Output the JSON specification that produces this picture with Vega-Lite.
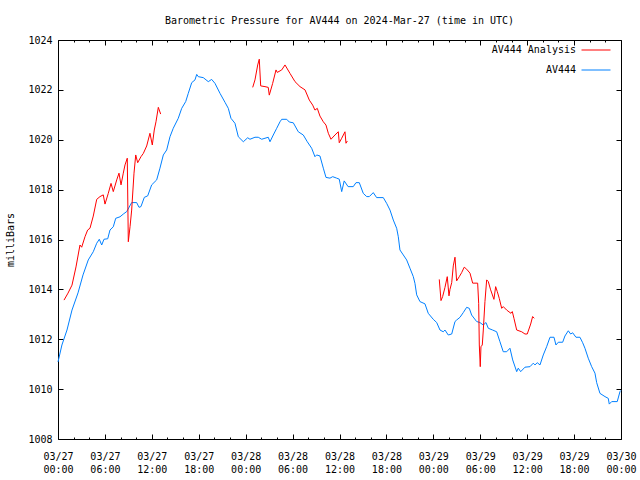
{
  "$schema": "https://vega.github.io/schema/vega-lite/v6.json",
  "width": 563,
  "height": 399,
  "autosize": "none",
  "padding": {"left": 58, "top": 40, "right": 19, "bottom": 41},
  "background": "white",
  "config": {
    "font": "DejaVu Sans Mono",
    "view": {"stroke": null},
    "axis": {
      "domainColor": "black",
      "domainWidth": 1,
      "tickColor": "black",
      "tickWidth": 1,
      "labelColor": "black",
      "labelFont": "DejaVu Sans Mono",
      "labelFontSize": 10,
      "titleFont": "DejaVu Sans Mono",
      "titleFontSize": 10,
      "titleFontWeight": "normal",
      "titleColor": "black",
      "grid": false
    }
  },
  "title": {
    "text": "Barometric Pressure for AV444 on 2024-Mar-27 (time in UTC)",
    "font": "DejaVu Sans Mono",
    "fontSize": 10,
    "fontWeight": "normal",
    "color": "black",
    "anchor": "middle",
    "offset": 9
  },
  "datasets": {
    "blue": [
      {"h": 0, "p": 1011.09}, {"h": 0.5, "p": 1011.77}, {"h": 1.15, "p": 1012.37}, {"h": 1.79, "p": 1013.17},
      {"h": 2.56, "p": 1013.86}, {"h": 3.2, "p": 1014.58}, {"h": 3.87, "p": 1015.18}, {"h": 4.51, "p": 1015.51},
      {"h": 4.95, "p": 1015.85}, {"h": 5.28, "p": 1016.01}, {"h": 5.59, "p": 1015.78}, {"h": 5.88, "p": 1016.01},
      {"h": 6.36, "p": 1016.03}, {"h": 6.65, "p": 1016.38}, {"h": 7.07, "p": 1016.51}, {"h": 7.38, "p": 1016.85},
      {"h": 7.93, "p": 1016.91}, {"h": 8.35, "p": 1017.02}, {"h": 8.79, "p": 1017.12}, {"h": 9.42, "p": 1017.48},
      {"h": 10.06, "p": 1017.48}, {"h": 10.36, "p": 1017.29}, {"h": 10.61, "p": 1017.32}, {"h": 11.04, "p": 1017.69},
      {"h": 11.47, "p": 1017.75}, {"h": 11.98, "p": 1018.19}, {"h": 12.62, "p": 1018.39}, {"h": 13.04, "p": 1018.86},
      {"h": 13.47, "p": 1019.39}, {"h": 13.9, "p": 1019.59}, {"h": 14.32, "p": 1020.12}, {"h": 14.74, "p": 1020.46},
      {"h": 15.38, "p": 1020.86}, {"h": 15.82, "p": 1021.26}, {"h": 16.33, "p": 1021.53}, {"h": 16.66, "p": 1021.86},
      {"h": 17.1, "p": 1022.29}, {"h": 17.52, "p": 1022.4}, {"h": 17.74, "p": 1022.62}, {"h": 17.94, "p": 1022.53},
      {"h": 18.58, "p": 1022.49}, {"h": 19.22, "p": 1022.33}, {"h": 19.65, "p": 1022.42}, {"h": 20.08, "p": 1022.26},
      {"h": 20.72, "p": 1021.86}, {"h": 21.36, "p": 1021.5}, {"h": 21.78, "p": 1021.26}, {"h": 22.12, "p": 1020.86},
      {"h": 22.63, "p": 1020.66}, {"h": 23.06, "p": 1020.12}, {"h": 23.7, "p": 1019.92}, {"h": 24.26, "p": 1020.08},
      {"h": 24.55, "p": 1020.02}, {"h": 25.19, "p": 1020.1}, {"h": 25.61, "p": 1020.1}, {"h": 26.05, "p": 1020.02},
      {"h": 26.89, "p": 1020.1}, {"h": 27.11, "p": 1019.92}, {"h": 27.53, "p": 1020.19}, {"h": 27.97, "p": 1020.46},
      {"h": 28.39, "p": 1020.72}, {"h": 28.61, "p": 1020.82}, {"h": 29.25, "p": 1020.82}, {"h": 29.58, "p": 1020.71},
      {"h": 30.09, "p": 1020.68}, {"h": 30.73, "p": 1020.32}, {"h": 31.37, "p": 1020.19}, {"h": 31.88, "p": 1019.92},
      {"h": 32.44, "p": 1019.66}, {"h": 32.86, "p": 1019.32}, {"h": 33.08, "p": 1019.39}, {"h": 33.5, "p": 1019.35},
      {"h": 33.93, "p": 1018.86}, {"h": 34.27, "p": 1018.49}, {"h": 34.78, "p": 1018.46}, {"h": 35.13, "p": 1018.52},
      {"h": 35.64, "p": 1018.46}, {"h": 35.97, "p": 1018.42}, {"h": 36.28, "p": 1017.92}, {"h": 36.6, "p": 1018.35},
      {"h": 37.1, "p": 1018.12}, {"h": 37.76, "p": 1018.12}, {"h": 38.11, "p": 1018.28}, {"h": 38.53, "p": 1018.28},
      {"h": 39.04, "p": 1017.85}, {"h": 39.48, "p": 1017.72}, {"h": 39.81, "p": 1017.72}, {"h": 40.32, "p": 1017.88},
      {"h": 40.75, "p": 1017.68}, {"h": 41.6, "p": 1017.68}, {"h": 42.03, "p": 1017.45}, {"h": 42.46, "p": 1017.18},
      {"h": 42.88, "p": 1016.78}, {"h": 43.31, "p": 1016.45}, {"h": 43.52, "p": 1016.11}, {"h": 43.73, "p": 1015.58},
      {"h": 44.16, "p": 1015.38}, {"h": 44.59, "p": 1015.18}, {"h": 45.01, "p": 1014.85}, {"h": 45.44, "p": 1014.51},
      {"h": 45.65, "p": 1014.24}, {"h": 45.87, "p": 1013.78}, {"h": 46.29, "p": 1013.51}, {"h": 46.93, "p": 1013.42},
      {"h": 47.35, "p": 1013.04}, {"h": 47.99, "p": 1012.8}, {"h": 48.43, "p": 1012.67}, {"h": 48.85, "p": 1012.37},
      {"h": 49.27, "p": 1012.3}, {"h": 49.49, "p": 1012.37}, {"h": 49.91, "p": 1012.17}, {"h": 50.35, "p": 1012.21},
      {"h": 50.77, "p": 1012.71}, {"h": 50.98, "p": 1012.77}, {"h": 51.41, "p": 1012.88}, {"h": 51.83, "p": 1013.07},
      {"h": 52.26, "p": 1013.28}, {"h": 52.6, "p": 1013.24}, {"h": 52.9, "p": 1012.97}, {"h": 53.54, "p": 1012.71},
      {"h": 53.96, "p": 1012.67}, {"h": 54.39, "p": 1012.57}, {"h": 54.73, "p": 1012.67}, {"h": 55.03, "p": 1012.44},
      {"h": 55.58, "p": 1012.37}, {"h": 56.1, "p": 1012.3}, {"h": 56.52, "p": 1011.9}, {"h": 56.94, "p": 1011.5},
      {"h": 57.38, "p": 1011.5}, {"h": 57.8, "p": 1011.64}, {"h": 58.15, "p": 1011.17}, {"h": 58.66, "p": 1010.7},
      {"h": 58.86, "p": 1010.84}, {"h": 59.17, "p": 1010.7}, {"h": 59.72, "p": 1010.88}, {"h": 60.36, "p": 1010.9},
      {"h": 60.78, "p": 1011.04}, {"h": 61.0, "p": 1010.97}, {"h": 61.29, "p": 1011.06}, {"h": 61.64, "p": 1010.97},
      {"h": 62.06, "p": 1011.37}, {"h": 62.49, "p": 1011.7}, {"h": 62.92, "p": 1012.08}, {"h": 63.43, "p": 1012.08},
      {"h": 63.68, "p": 1011.77}, {"h": 63.98, "p": 1011.88}, {"h": 64.54, "p": 1011.88}, {"h": 64.83, "p": 1012.13},
      {"h": 65.26, "p": 1012.34}, {"h": 65.56, "p": 1012.21}, {"h": 65.82, "p": 1012.26}, {"h": 66.24, "p": 1012.08},
      {"h": 66.75, "p": 1012.08}, {"h": 67.1, "p": 1011.86}, {"h": 67.39, "p": 1011.64}, {"h": 67.81, "p": 1011.24},
      {"h": 68.25, "p": 1010.9}, {"h": 68.67, "p": 1010.64}, {"h": 68.89, "p": 1010.26}, {"h": 69.31, "p": 1009.83},
      {"h": 69.95, "p": 1009.7}, {"h": 70.37, "p": 1009.63}, {"h": 70.5, "p": 1009.4}, {"h": 70.81, "p": 1009.5},
      {"h": 71.52, "p": 1009.5}, {"h": 71.87, "p": 1009.9}, {"h": 72, "p": 1009.95}
    ],
    "red": [
      {"seg": 1, "h": 0.77, "p": 1013.57}, {"seg": 1, "h": 1.28, "p": 1013.85}, {"seg": 1, "h": 1.79, "p": 1014.17},
      {"seg": 1, "h": 2.3, "p": 1014.9}, {"seg": 1, "h": 2.81, "p": 1015.78}, {"seg": 1, "h": 3.03, "p": 1015.69},
      {"seg": 1, "h": 3.45, "p": 1016.11}, {"seg": 1, "h": 3.79, "p": 1016.38}, {"seg": 1, "h": 4.09, "p": 1016.45},
      {"seg": 1, "h": 4.51, "p": 1016.94}, {"seg": 1, "h": 4.95, "p": 1017.61}, {"seg": 1, "h": 5.37, "p": 1017.72},
      {"seg": 1, "h": 5.79, "p": 1017.79}, {"seg": 1, "h": 6.01, "p": 1017.42}, {"seg": 1, "h": 6.43, "p": 1017.85},
      {"seg": 1, "h": 6.78, "p": 1018.25}, {"seg": 1, "h": 7.07, "p": 1017.92}, {"seg": 1, "h": 7.51, "p": 1018.39},
      {"seg": 1, "h": 7.8, "p": 1018.66}, {"seg": 1, "h": 8.06, "p": 1018.19}, {"seg": 1, "h": 8.35, "p": 1018.66},
      {"seg": 1, "h": 8.57, "p": 1018.99}, {"seg": 1, "h": 8.86, "p": 1019.26}, {"seg": 1, "h": 8.99, "p": 1015.91},
      {"seg": 1, "h": 9.21, "p": 1016.51}, {"seg": 1, "h": 9.42, "p": 1017.18}, {"seg": 1, "h": 9.72, "p": 1018.66},
      {"seg": 1, "h": 9.94, "p": 1019.39}, {"seg": 1, "h": 10.19, "p": 1019.08}, {"seg": 1, "h": 10.61, "p": 1019.32},
      {"seg": 1, "h": 10.91, "p": 1019.45}, {"seg": 1, "h": 11.34, "p": 1019.75}, {"seg": 1, "h": 11.76, "p": 1020.26},
      {"seg": 1, "h": 12.06, "p": 1019.79}, {"seg": 1, "h": 12.31, "p": 1020.39}, {"seg": 1, "h": 12.53, "p": 1020.72},
      {"seg": 1, "h": 12.83, "p": 1021.3}, {"seg": 1, "h": 13.13, "p": 1021.03},
      {"seg": 2, "h": 24.9, "p": 1022.1}, {"seg": 2, "h": 25.19, "p": 1022.4}, {"seg": 2, "h": 25.54, "p": 1023.0},
      {"seg": 2, "h": 25.74, "p": 1023.23}, {"seg": 2, "h": 25.92, "p": 1022.16}, {"seg": 2, "h": 26.47, "p": 1022.13},
      {"seg": 2, "h": 26.89, "p": 1022.1}, {"seg": 2, "h": 27.02, "p": 1021.79}, {"seg": 2, "h": 27.45, "p": 1022.26},
      {"seg": 2, "h": 27.88, "p": 1022.8}, {"seg": 2, "h": 28.04, "p": 1022.7}, {"seg": 2, "h": 28.61, "p": 1022.8},
      {"seg": 2, "h": 29.03, "p": 1023.0}, {"seg": 2, "h": 29.67, "p": 1022.66}, {"seg": 2, "h": 30.31, "p": 1022.33},
      {"seg": 2, "h": 30.95, "p": 1022.13}, {"seg": 2, "h": 31.59, "p": 1022.0}, {"seg": 2, "h": 32.14, "p": 1021.59},
      {"seg": 2, "h": 32.57, "p": 1021.39}, {"seg": 2, "h": 32.86, "p": 1021.19}, {"seg": 2, "h": 33.16, "p": 1021.26},
      {"seg": 2, "h": 33.5, "p": 1020.95}, {"seg": 2, "h": 33.93, "p": 1020.72}, {"seg": 2, "h": 34.27, "p": 1020.59},
      {"seg": 2, "h": 34.57, "p": 1020.26}, {"seg": 2, "h": 34.91, "p": 1020.02}, {"seg": 2, "h": 35.42, "p": 1020.19},
      {"seg": 2, "h": 35.85, "p": 1020.32}, {"seg": 2, "h": 35.97, "p": 1019.88}, {"seg": 2, "h": 36.28, "p": 1020.06},
      {"seg": 2, "h": 36.7, "p": 1020.32}, {"seg": 2, "h": 36.83, "p": 1019.86}, {"seg": 2, "h": 37.0, "p": 1019.95},
      {"seg": 3, "h": 48.76, "p": 1014.4}, {"seg": 3, "h": 48.98, "p": 1013.55}, {"seg": 3, "h": 49.19, "p": 1013.71},
      {"seg": 3, "h": 49.49, "p": 1014.08}, {"seg": 3, "h": 49.78, "p": 1014.51}, {"seg": 3, "h": 50.0, "p": 1013.74},
      {"seg": 3, "h": 50.13, "p": 1014.0}, {"seg": 3, "h": 50.35, "p": 1014.27}, {"seg": 3, "h": 50.55, "p": 1014.94},
      {"seg": 3, "h": 50.77, "p": 1015.29}, {"seg": 3, "h": 50.98, "p": 1014.34}, {"seg": 3, "h": 51.32, "p": 1014.51},
      {"seg": 3, "h": 51.62, "p": 1014.67}, {"seg": 3, "h": 51.95, "p": 1014.89}, {"seg": 3, "h": 52.26, "p": 1014.81},
      {"seg": 3, "h": 52.69, "p": 1014.65}, {"seg": 3, "h": 53.03, "p": 1014.25}, {"seg": 3, "h": 53.67, "p": 1014.25},
      {"seg": 3, "h": 53.8, "p": 1013.44}, {"seg": 3, "h": 53.88, "p": 1011.77}, {"seg": 3, "h": 54.0, "p": 1010.9},
      {"seg": 3, "h": 54.09, "p": 1011.7}, {"seg": 3, "h": 54.26, "p": 1011.77}, {"seg": 3, "h": 54.39, "p": 1012.37},
      {"seg": 3, "h": 54.6, "p": 1013.51}, {"seg": 3, "h": 54.82, "p": 1014.38}, {"seg": 3, "h": 55.03, "p": 1014.31},
      {"seg": 3, "h": 55.33, "p": 1013.98}, {"seg": 3, "h": 55.75, "p": 1013.6}, {"seg": 3, "h": 55.97, "p": 1014.11},
      {"seg": 3, "h": 56.18, "p": 1013.91}, {"seg": 3, "h": 56.43, "p": 1013.64}, {"seg": 3, "h": 56.74, "p": 1013.24},
      {"seg": 3, "h": 56.94, "p": 1013.31}, {"seg": 3, "h": 57.38, "p": 1013.17}, {"seg": 3, "h": 57.93, "p": 1013.04},
      {"seg": 3, "h": 58.1, "p": 1013.11}, {"seg": 3, "h": 58.31, "p": 1012.84}, {"seg": 3, "h": 58.66, "p": 1012.37},
      {"seg": 3, "h": 59.3, "p": 1012.3}, {"seg": 3, "h": 59.72, "p": 1012.21}, {"seg": 3, "h": 60.01, "p": 1012.21},
      {"seg": 3, "h": 60.45, "p": 1012.61}, {"seg": 3, "h": 60.7, "p": 1012.91}, {"seg": 3, "h": 60.91, "p": 1012.84}
    ]
  },
  "layer": [
    {
      "data": {"name": "blue"},
      "mark": {"type": "line", "strokeWidth": 1},
      "encoding": {
        "x": {
          "field": "h", "type": "quantitative",
          "scale": {"domain": [0, 72], "nice": false, "zero": false},
          "axis": {
            "orient": "bottom",
            "title": null,
            "values": [0,2,4,6,8,10,12,14,16,18,20,22,24,26,28,30,32,34,36,38,40,42,44,46,48,50,52,54,56,58,60,62,64,66,68,70,72],
            "tickSize": {"condition": {"test": "datum.value % 6 === 0", "value": -5}, "value": -2},
            "labelPadding": 17,
            "labelBaseline": "top",
            "labelLineHeight": 13,
            "labelOverlap": false,
            "labelFlush": false,
            "labelExpr": "datum.value % 6 === 0 ? ['03/' + (27 + floor(datum.value / 24)), ((datum.value % 24) < 10 ? '0' : '') + (datum.value % 24) + ':00'] : ''"
          }
        },
        "y": {
          "field": "p", "type": "quantitative",
          "scale": {"domain": [1008, 1024], "nice": false, "zero": false},
          "axis": {
            "orient": "left",
            "title": "milliBars",
            "format": "d",
            "values": [1008, 1010, 1012, 1014, 1016, 1018, 1020, 1022, 1024],
            "tickSize": -5,
            "labelPadding": 11,
            "labelFlush": false,
            "titlePadding": 12
          }
        },
        "color": {
          "datum": "AV444",
          "type": "nominal",
          "scale": {"domain": ["AV444 Analysis", "AV444"], "range": ["#ff0000", "#0080ff"]},
          "legend": {
            "title": null,
            "orient": "none",
            "legendX": 523,
            "legendY": -5,
            "symbolType": "stroke",
            "symbolSize": 841,
            "symbolStrokeWidth": 1,
            "labelAlign": "right",
            "labelOffset": -35,
            "labelFont": "DejaVu Sans Mono",
            "labelFontSize": 10,
            "labelColor": "black",
            "labelLimit": 300,
            "rowPadding": -7.5
          }
        }
      }
    },
    {
      "data": {"name": "red"},
      "mark": {"type": "line", "strokeWidth": 1},
      "encoding": {
        "x": {
          "field": "h", "type": "quantitative",
          "axis": {
            "orient": "top",
            "title": null,
            "labels": false,
            "values": [0,2,4,6,8,10,12,14,16,18,20,22,24,26,28,30,32,34,36,38,40,42,44,46,48,50,52,54,56,58,60,62,64,66,68,70,72],
            "tickSize": {"condition": {"test": "datum.value % 6 === 0", "value": -5}, "value": -2}
          }
        },
        "y": {
          "field": "p", "type": "quantitative",
          "axis": {
            "orient": "right",
            "title": null,
            "labels": false,
            "values": [1008, 1010, 1012, 1014, 1016, 1018, 1020, 1022, 1024],
            "tickSize": -5
          }
        },
        "detail": {"field": "seg", "type": "nominal"},
        "color": {"datum": "AV444 Analysis", "type": "nominal"}
      }
    }
  ],
  "resolve": {"axis": {"x": "independent", "y": "independent"}}
}
